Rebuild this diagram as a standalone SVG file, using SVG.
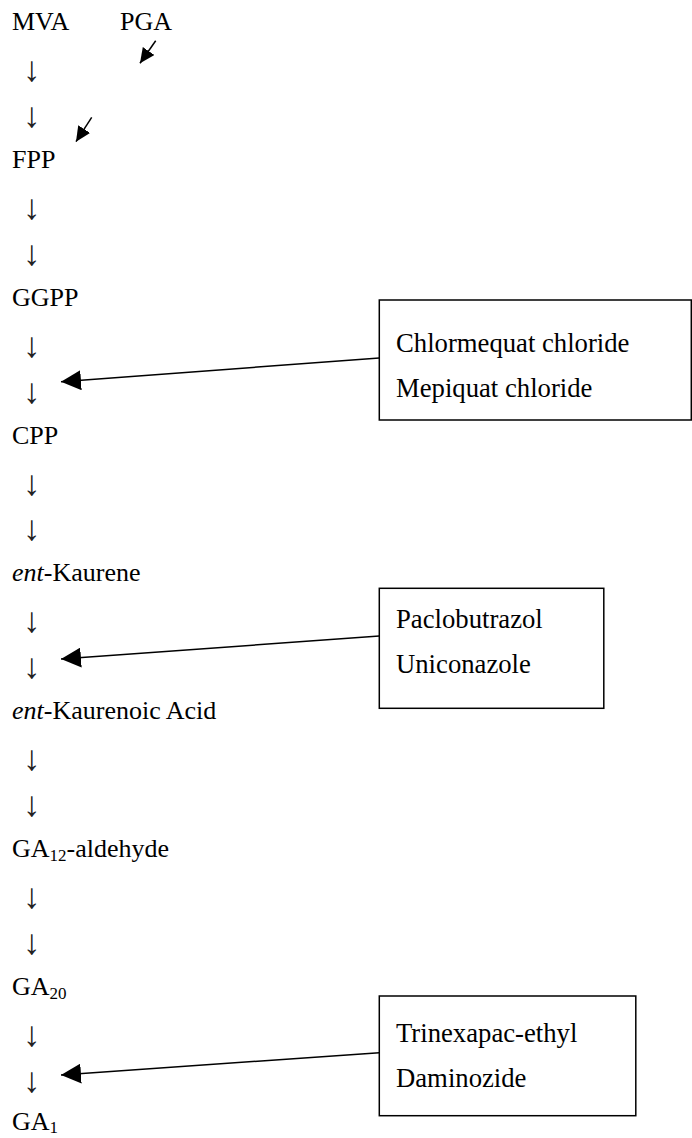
<svg xmlns="http://www.w3.org/2000/svg" width="692" height="1138" viewBox="0 0 692 1138">
<style>
.t{font-family:"Liberation Serif","Times New Roman",serif;font-size:26px;fill:#000}
.b{font-family:"Liberation Serif","Times New Roman",serif;font-size:26.7px;fill:#000}
.ar{font-family:"Liberation Serif","Times New Roman",serif;font-size:35px;fill:#222;text-anchor:middle}
.sub{font-size:17px}
.box{fill:#fff;stroke:#000;stroke-width:1.5}
.con{stroke:#000;stroke-width:1.5;fill:none}
</style>
<defs>
<marker id="big" markerUnits="userSpaceOnUse" markerWidth="20" markerHeight="20" refX="20" refY="10" orient="auto">
<path d="M0,0 L20,10 L0,20 z" fill="#000"/>
</marker>
<marker id="small" markerUnits="userSpaceOnUse" markerWidth="16" markerHeight="14" refX="15" refY="7" orient="auto">
<path d="M0,0 L15,7 L0,14 z" fill="#000"/>
</marker>
</defs>
<rect width="692" height="1138" fill="#fff"/>
<g id="n-mva"><text class="t" x="12" y="30">MVA</text></g>
<g id="n-pga"><text class="t" x="120" y="30">PGA</text></g>
<g id="n-fpp"><text class="t" x="12" y="168">FPP</text></g>
<g id="n-ggpp"><text class="t" x="12" y="305.7">GGPP</text></g>
<g id="n-cpp"><text class="t" x="12" y="443.5">CPP</text></g>
<g id="n-kaurene"><text class="t" x="12" y="581.4"><tspan font-style="italic">ent</tspan>-Kaurene</text></g>
<g id="n-kaurenoic"><text class="t" x="12" y="719.3"><tspan font-style="italic">ent</tspan>-Kaurenoic Acid</text></g>
<g id="n-ga12"><text class="t" x="12" y="857.2">GA<tspan class="sub" dy="4">12</tspan><tspan dy="-4">-aldehyde</tspan></text></g>
<g id="n-ga20"><text class="t" x="12" y="995">GA<tspan class="sub" dy="4">20</tspan></text></g>
<g id="n-ga1"><text class="t" x="12" y="1130">GA<tspan class="sub" dy="3">1</tspan></text></g>
<g id="steps">
<text class="ar" x="31.7" y="81">↓</text>
<text class="ar" x="31.7" y="127">↓</text>
<text class="ar" x="31.7" y="218.9">↓</text>
<text class="ar" x="31.7" y="264.8">↓</text>
<text class="ar" x="31.7" y="356.6">↓</text>
<text class="ar" x="31.7" y="402.6">↓</text>
<text class="ar" x="31.7" y="494.5">↓</text>
<text class="ar" x="31.7" y="540.4">↓</text>
<text class="ar" x="31.7" y="632.3">↓</text>
<text class="ar" x="31.7" y="678.2">↓</text>
<text class="ar" x="31.7" y="770.2">↓</text>
<text class="ar" x="31.7" y="816.1">↓</text>
<text class="ar" x="31.7" y="908">↓</text>
<text class="ar" x="31.7" y="954">↓</text>
<text class="ar" x="31.7" y="1045.9">↓</text>
<text class="ar" x="31.7" y="1091.9">↓</text>
</g>
<g id="box-1">
<rect class="box" x="379.3" y="300" width="312" height="120"/>
<text class="b" x="396" y="352">Chlormequat chloride</text>
<text class="b" x="396" y="397.3">Mepiquat chloride</text>
</g>
<g id="box-2">
<rect class="box" x="379.3" y="588.3" width="224.5" height="120"/>
<text class="b" x="396" y="628.3">Paclobutrazol</text>
<text class="b" x="396" y="673.3">Uniconazole</text>
</g>
<g id="box-3">
<rect class="box" x="379.3" y="996" width="256.5" height="119.7"/>
<text class="b" x="396" y="1041.7">Trinexapac-ethyl</text>
<text class="b" x="396" y="1087.3">Daminozide</text>
</g>
<g id="connectors">
<line class="con" x1="155.7" y1="40.7" x2="140" y2="63.3" marker-end="url(#small)"/>
<line class="con" x1="91.7" y1="117.3" x2="76" y2="141.7" marker-end="url(#small)"/>
<line class="con" x1="379.3" y1="358" x2="61" y2="381.7" marker-end="url(#big)"/>
<line class="con" x1="379.3" y1="636" x2="61" y2="659" marker-end="url(#big)"/>
<line class="con" x1="379.3" y1="1052.7" x2="61" y2="1075" marker-end="url(#big)"/>
</g>
</svg>
